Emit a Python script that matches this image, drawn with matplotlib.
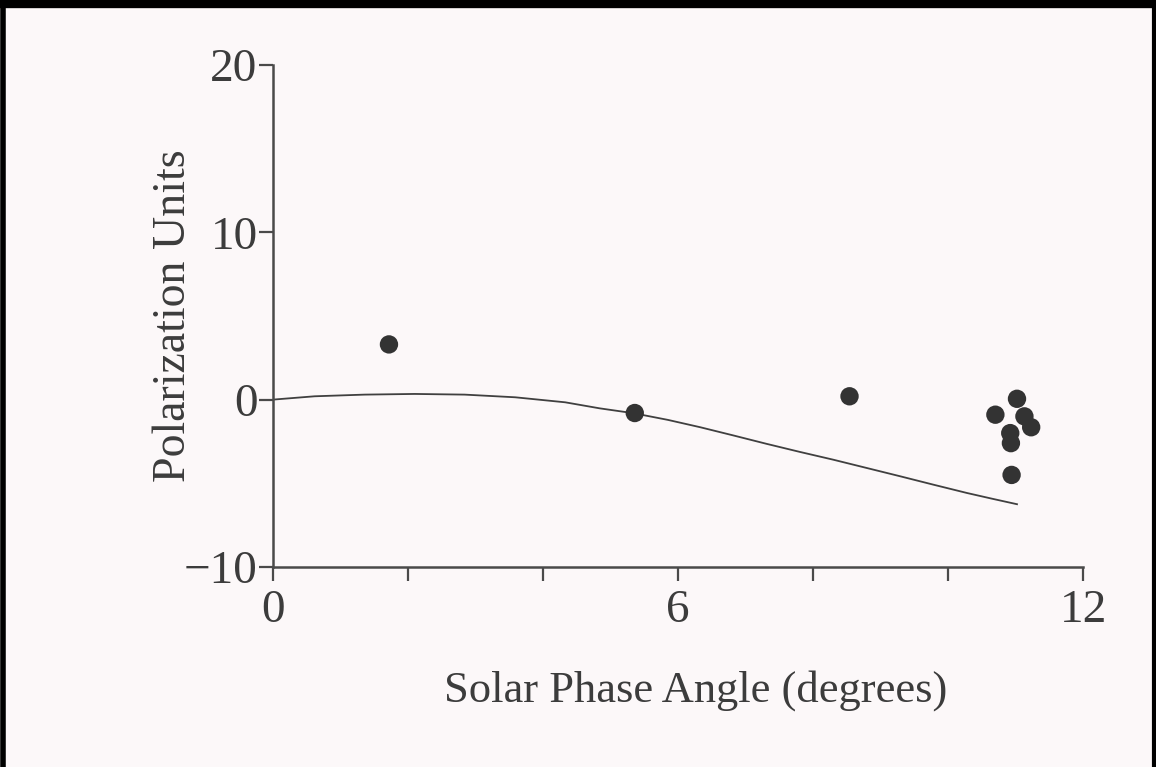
import numpy as np
import matplotlib.pyplot as plt
from matplotlib.lines import Line2D

# measured points (solar phase angle in degrees, polarization units)
angulo = [1.72, 5.36, 8.54, 10.70, 11.02, 11.13, 11.23, 10.92, 10.93, 10.94]
polarizacao = [3.3, -0.8, 0.2, -0.9, 0.05, -1.0, -1.65, -2.0, -2.6, -4.5]

# model curve
curvaX = [0.0, 0.62, 1.36, 2.10, 2.84, 3.59, 4.33, 4.84, 5.34, 5.85, 6.33, 6.82,
          7.31, 7.80, 8.30, 8.80, 9.29, 9.78, 10.28, 10.65, 11.02]
curvaY = [0.0, 0.20, 0.30, 0.34, 0.30, 0.14, -0.16, -0.52, -0.81, -1.21, -1.65, -2.14,
          -2.64, -3.12, -3.59, -4.09, -4.58, -5.08, -5.58, -5.92, -6.25]

corTexto = '#3c3c3c'
fundo = '#fcf8f9'

plt.rcParams['font.family'] = ['Liberation Serif', 'DejaVu Serif']

fig = plt.figure(figsize=(11.56, 7.67), dpi=100)
fig.patch.set_facecolor(fundo)
ax = fig.add_axes([0.236, 0.2608, 0.701, 0.6545])
ax.set_facecolor(fundo)

ax.plot(curvaX, curvaY, color='#404040', lw=1.3)
ax.scatter(angulo, polarizacao, s=175, color='#333333', zorder=3, edgecolors='none')

ax.set_xlim(0, 12)
ax.set_ylim(-10, 20)
ax.set_xticks([0, 2, 4, 6, 8, 10, 12])
ax.set_xticklabels(['0', '', '', '6', '', '', '12'])
ax.set_yticks([-10, 0, 10, 20])
ax.set_yticklabels(['\u221210', '0', '10', '20'])

for s in ['top', 'right']:
    ax.spines[s].set_visible(False)
for s in ['left', 'bottom']:
    ax.spines[s].set_color('#4a4a4a')
    ax.spines[s].set_linewidth(1.8)

ax.tick_params(axis='both', direction='out', length=10, width=1.6, color='#4a4a4a',
               labelsize=34, labelcolor=corTexto, pad=1)
ax.tick_params(axis='x', pad=6)

ax.set_xlabel('Solar Phase Angle (degrees)', fontsize=32, color=corTexto)
ax.xaxis.set_label_coords(0.522, -0.205)
ax.set_ylabel('Polarization Units', fontsize=33, color=corTexto, labelpad=-8)

# scanned page frame
fig.add_artist(Line2D([0, 1], [0.995, 0.995], transform=fig.transFigure, color='black', lw=6))
fig.add_artist(Line2D([0.003, 0.003], [0, 1], transform=fig.transFigure, color='black', lw=4))
fig.add_artist(Line2D([0.998, 0.998], [0, 1], transform=fig.transFigure, color='black', lw=3))

plt.savefig('out.png', dpi=100, facecolor=fundo)
